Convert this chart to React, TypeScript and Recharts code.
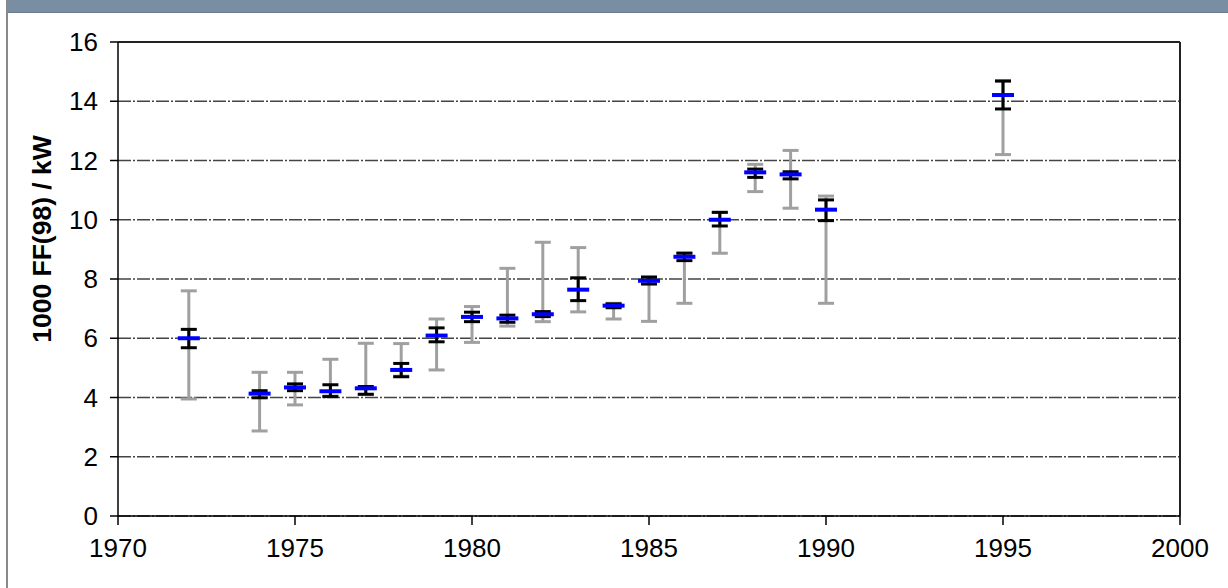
import { ScatterChart, Scatter, XAxis, YAxis, CartesianGrid, ErrorBar, ReferenceLine } from 'recharts'

const YEARS = [1972, 1974, 1975, 1976, 1977, 1978, 1979, 1980, 1981, 1982, 1983, 1984, 1985, 1986, 1987, 1988, 1989, 1990, 1995]
const MEAN = [6.0, 4.13, 4.34, 4.21, 4.31, 4.93, 6.09, 6.72, 6.67, 6.81, 7.64, 7.1, 7.94, 8.75, 10.0, 11.6, 11.53, 10.34, 14.21]
const WIDE_LOW = [3.95, 2.87, 3.75, 4.05, 4.1, 4.72, 4.93, 5.86, 6.41, 6.56, 6.89, 6.65, 6.57, 7.18, 8.87, 10.95, 10.39, 7.18, 12.2]
const WIDE_HIGH = [7.6, 4.85, 4.85, 5.29, 5.83, 5.82, 6.65, 7.07, 8.36, 9.24, 9.06, 7.18, 8.08, 8.88, 10.25, 11.87, 12.34, 10.8, 14.7]
const NARROW_LOW = [5.68, 3.99, 4.23, 4.03, 4.11, 4.7, 5.88, 6.56, 6.54, 6.73, 7.27, 7.03, 7.83, 8.62, 9.79, 11.43, 11.38, 9.97, 13.74]
const NARROW_HIGH = [6.3, 4.23, 4.46, 4.43, 4.37, 5.15, 6.35, 6.88, 6.78, 6.9, 8.04, 7.16, 8.06, 8.87, 10.25, 11.71, 11.62, 10.67, 14.68]

const X_TICKS = [1970, 1975, 1980, 1985, 1990, 1995, 2000]
const Y_TICKS = [0, 2, 4, 6, 8, 10, 12, 14, 16]
const Y_LABEL = '1000 FF(98) / kW'

const FONT = '"Liberation Sans", Arial, sans-serif'

const data = YEARS.map((year, i) => ({
  year,
  mean: MEAN[i],
  wide: [MEAN[i] - WIDE_LOW[i], WIDE_HIGH[i] - MEAN[i]],
  narrow: [MEAN[i] - NARROW_LOW[i], NARROW_HIGH[i] - MEAN[i]],
}))

const MeanDash = (props: any) => {
  const { cx, cy } = props
  if (cx == null || cy == null) return null
  return <rect x={cx - 11} y={cy - 2} width={22} height={4} fill="#0000ff" />
}

const YLabel = () => (
  <text
    x={51}
    y={239}
    transform="rotate(-90 51 239)"
    textAnchor="middle"
    fontFamily={FONT}
    fontWeight="bold"
    fontSize={26.5}
    fill="#000"
  >
    {Y_LABEL}
  </text>
)

export default function App() {
  return (
    <div style={{ position: 'absolute', left: 0, top: 0, width: 1228, height: 588, background: '#fff', overflow: 'hidden' }}>
      <div style={{ position: 'absolute', left: 6, top: 0, width: 1222, height: 12, background: '#7a8ea3', borderBottom: '1px solid #6b7d90' }} />
      <div style={{ position: 'absolute', left: 6, top: 0, width: 2, height: 588, background: '#8a8a8a' }} />
      <div style={{ position: 'absolute', left: 0, top: 0 }}>
        <ScatterChart width={1228} height={588} margin={{ top: 42, right: 48, bottom: 0, left: 0 }}>
          <CartesianGrid vertical={false} stroke="#444" strokeWidth={1.5} strokeDasharray="13 2 2 2" />
          <XAxis
            type="number"
            dataKey="year"
            domain={[1970, 2000]}
            ticks={X_TICKS}
            height={72}
            tickSize={9}
            tickMargin={14}
            axisLine={{ stroke: '#000', strokeWidth: 1.5 }}
            tickLine={{ stroke: '#000', strokeWidth: 1.5 }}
            tick={{ fill: '#000', fontSize: 26, fontFamily: FONT }}
          />
          <YAxis
            type="number"
            dataKey="mean"
            domain={[0, 16]}
            ticks={Y_TICKS}
            width={118}
            tickSize={8}
            tickMargin={12}
            axisLine={{ stroke: '#000', strokeWidth: 1.5 }}
            tickLine={{ stroke: '#000', strokeWidth: 1.5 }}
            tick={{ fill: '#000', fontSize: 26, fontFamily: FONT }}
            label={<YLabel />}
          />
          <ReferenceLine y={16} stroke="#222" strokeWidth={2} />
          <ReferenceLine x={2000} stroke="#222" strokeWidth={2} />
          <Scatter data={data} shape={MeanDash} isAnimationActive={false}>
            <ErrorBar dataKey="wide" direction="y" width={8} stroke="#a0a0a0" strokeWidth={3} />
            <ErrorBar dataKey="narrow" direction="y" width={8} stroke="#000" strokeWidth={3} />
          </Scatter>
        </ScatterChart>
      </div>
    </div>
  )
}
